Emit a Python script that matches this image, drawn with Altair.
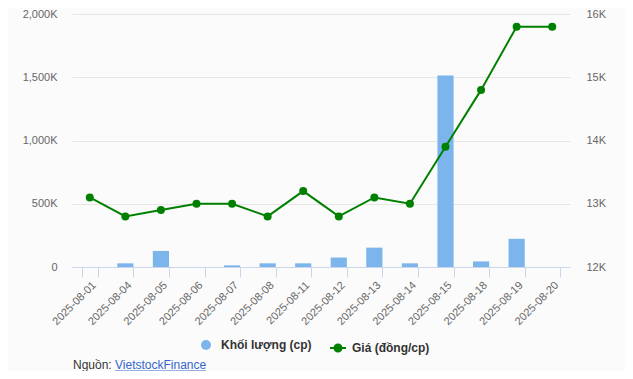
import altair as alt
import pandas as pd

dates = ["2025-08-01", "2025-08-04", "2025-08-05", "2025-08-06", "2025-08-07",
         "2025-08-08", "2025-08-11", "2025-08-12", "2025-08-13", "2025-08-14",
         "2025-08-15", "2025-08-18", "2025-08-19", "2025-08-20"]
volume = [0, 29000, 127000, 0, 13000, 29000, 29000, 75000, 153000, 29000,
          1513000, 44000, 223000, 0]
price = [13100, 12800, 12900, 13000, 13000, 12800, 13200, 12800, 13100, 13000,
         13900, 14800, 15800, 15800]
vol_ticks = [0, 500000, 1000000, 1500000, 2000000]
price_ticks = [12000, 13000, 14000, 15000, 16000]
vol_name = "Khối lượng (cp)"
price_name = "Giá (đồng/cp)"
source_label = "Nguồn:"
source_link = "VietstockFinance"

df = pd.DataFrame({"date": dates, "volume": volume, "price": price,
                   "s1": vol_name, "s2": price_name})

FONT = "Liberation Sans"
GREEN = "#008000"
BLUE = "#7cb5ec"

x_enc = alt.X("date:N", sort=dates, title=None,
              scale=alt.Scale(paddingInner=0.545, paddingOuter=0.2725),
              axis=alt.Axis(labelAngle=-45, tickBand="extent", tickSize=10,
                            tickColor="#ccd6eb", domainColor="#ccd6eb",
                            labelPadding=2, labelColor="#666666",
                            labelFontSize=11, labelFont=FONT, grid=False))

base = alt.Chart(df)

bars = base.mark_bar().encode(
    x=x_enc,
    y=alt.Y("volume:Q", title=None,
            scale=alt.Scale(domain=[0, 2000000], nice=False),
            axis=alt.Axis(values=vol_ticks, ticks=False, domain=False,
                          labelPadding=15, gridColor="#e6e6e6",
                          labelColor="#666666", labelFontSize=11, labelFont=FONT,
                          labelExpr="datum.value == 0 ? '0' : format(datum.value/1000, ',') + 'K'")),
    fill=alt.Fill("s1:N", scale=alt.Scale(domain=[vol_name], range=[BLUE]),
                  legend=alt.Legend(orient="none", legendX=128, legendY=325,
                                    title=None, symbolType="circle", symbolSize=100,
                                    labelFontSize=12, labelFontWeight="bold",
                                    labelColor="#333333", labelFont=FONT,
                                    labelOffset=9, padding=0)),
)

y_price = alt.Y("price:Q", title=None,
                scale=alt.Scale(domain=[12000, 16000], nice=False, zero=False),
                axis=alt.Axis(orient="right", values=price_ticks, ticks=False,
                              domain=False, grid=False, labelPadding=16,
                              labelColor="#666666", labelFontSize=11, labelFont=FONT,
                              labelExpr="format(datum.value/1000, ',') + 'K'"))

line = base.mark_line(strokeWidth=2).encode(
    x=x_enc,
    y=y_price,
    stroke=alt.Stroke("s2:N", scale=alt.Scale(domain=[price_name], range=[GREEN]),
                      legend=alt.Legend(orient="none", legendX=257, legendY=325,
                                        title=None,
                                        symbolType="M-1,0L1,0M0.44,0A0.44,0.44,0,1,1,-0.44,0A0.44,0.44,0,1,1,0.44,0Z",
                                        symbolSize=256, symbolFillColor=GREEN,
                                        symbolStrokeWidth=2,
                                        labelFontSize=12, labelFontWeight="bold",
                                        labelColor="#333333", labelFont=FONT,
                                        labelOffset=5, padding=0)),
)

points = base.mark_circle(size=64, opacity=1, color=GREEN).encode(
    x=x_enc,
    y=y_price,
)

price_layer = alt.layer(line, points)

src = pd.DataFrame({"t": [source_label]})
lnk = pd.DataFrame({"t": [source_link]})

src_text = alt.Chart(src).mark_text(align="left", baseline="middle", fontSize=12,
                                    font=FONT, color="#333333").encode(
    x=alt.value(1), y=alt.value(351), text="t:N")
link_text = alt.Chart(lnk).mark_text(align="left", baseline="middle", fontSize=12,
                                     font=FONT, color="#3366cc").encode(
    x=alt.value(43), y=alt.value(351), text="t:N")
underline = alt.Chart(lnk).mark_rule(color="#3366cc", strokeWidth=1).encode(
    x=alt.value(43), x2=alt.value(134), y=alt.value(357))

chart = alt.layer(bars, price_layer, src_text, link_text, underline).resolve_scale(
    y="independent", fill="independent", stroke="independent"
).properties(
    width=498, height=253,
    autosize=alt.AutoSizeParams(type="none"),
    padding={"left": 64, "top": 6, "right": 55, "bottom": 104},
    background="#fbfbfb",
).configure_view(stroke=None)

chart.save("out.html", embed_options={"renderer": "svg", "actions": False})
